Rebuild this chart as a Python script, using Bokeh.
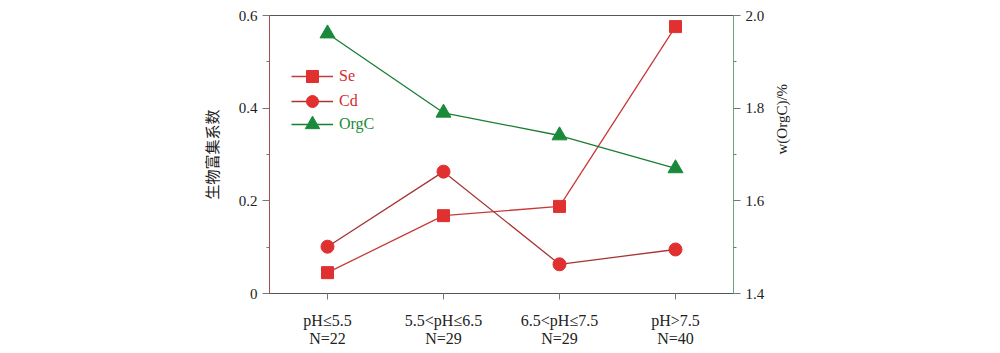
import math
from bokeh.plotting import figure
from bokeh.models import Range1d, LinearAxis, FixedTicker, Legend, LegendItem
from bokeh.embed import file_html
from bokeh.resources import INLINE

categories = ["pH≤5.5", "5.5<pH≤6.5", "6.5<pH≤7.5", "pH>7.5"]
counts = ["N=22", "N=29", "N=29", "N=40"]
se_values = [0.045, 0.168, 0.188, 0.576]
cd_values = [0.101, 0.263, 0.063, 0.095]
orgc_values = [1.961, 1.790, 1.741, 1.670]
left_ticks = [0, 0.2, 0.4, 0.6]
left_tick_labels = {0: "0", 0.2: "0.2", 0.4: "0.4", 0.6: "0.6"}
right_ticks = [1.4, 1.6, 1.8, 2.0]
right_tick_labels = {1.4: "1.4", 1.6: "1.6", 1.8: "1.8", 2.0: "2.0"}

SERIF = "Liberation Serif"
SE_LINE = "#c83a3a"
CD_LINE = "#a83434"
RED_FILL = "#e03030"
GREEN_LINE = "#1a7d34"
GREEN_FILL = "#1a8a3a"

xs = list(range(len(categories)))

p = figure(width=1000, height=353, output_backend="svg", toolbar_location=None,
           x_range=Range1d(-0.5, 3.5), y_range=Range1d(0, 0.6),
           min_border_left=269, min_border_right=267, min_border_top=15, min_border_bottom=60)
p.extra_y_ranges = {"orgc": Range1d(1.4, 2.0)}
p.grid.visible = False
p.outline_line_color = "#555555"
p.background_fill_color = "white"
p.border_fill_color = "white"

# bottom axis
xa = p.xaxis[0]
xa.ticker = FixedTicker(ticks=xs)
xa.major_label_overrides = {i: f"{c}\n{n}" for i, (c, n) in enumerate(zip(categories, counts))}
xa.major_label_text_font = SERIF
xa.major_label_text_font_size = "16px"
xa.major_label_text_color = "#222222"
xa.major_label_text_line_height = 1.1
xa.major_label_standoff = 12
xa.axis_line_color = "#555555"
xa.major_tick_line_color = "#777777"
xa.major_tick_out = 6
xa.major_tick_in = 0
xa.minor_tick_line_color = None

# left axis
ya = p.yaxis[0]
ya.ticker = FixedTicker(ticks=left_ticks, minor_ticks=[0.1, 0.3, 0.5])
ya.major_label_overrides = left_tick_labels
ya.axis_line_color = "#a0504a"
ya.major_tick_line_color = "#777777"
ya.minor_tick_line_color = "#777777"
ya.major_tick_out = 7
ya.major_tick_in = 0
ya.minor_tick_out = 3
ya.minor_tick_in = 0
ya.major_label_text_font = SERIF
ya.major_label_text_font_size = "15px"
ya.major_label_text_color = "#222222"
ya.axis_label = "生物富集系数"
ya.axis_label_text_font = "Noto Sans CJK SC"
ya.axis_label_text_font_style = "normal"
ya.axis_label_text_font_size = "15px"
ya.axis_label_text_color = "#222222"
ya.axis_label_standoff = 14

# right axis
ra = LinearAxis(y_range_name="orgc",
                ticker=FixedTicker(ticks=right_ticks, minor_ticks=[1.5, 1.7, 1.9]))
ra.major_label_overrides = right_tick_labels
ra.axis_line_color = "#6aa870"
ra.major_tick_line_color = "#777777"
ra.minor_tick_line_color = "#777777"
ra.major_tick_out = 7
ra.major_tick_in = 0
ra.minor_tick_out = 3
ra.minor_tick_in = 0
ra.major_label_text_font = SERIF
ra.major_label_text_font_size = "15px"
ra.major_label_text_color = "#222222"
ra.axis_label = "w(OrgC)/%"
ra.axis_label_text_font = SERIF
ra.axis_label_text_font_style = "normal"
ra.axis_label_text_font_size = "15px"
ra.axis_label_text_color = "#222222"
ra.axis_label_standoff = 15
try:
    ra.axis_label_orientation = math.pi / 2
except Exception:
    pass
p.add_layout(ra, "right")

# series
se_line = p.line(xs, se_values, line_color=SE_LINE, line_width=1.3)
se_mark = p.scatter(xs, se_values, marker="square", size=12, fill_color=RED_FILL, line_color=RED_FILL)
cd_line = p.line(xs, cd_values, line_color=CD_LINE, line_width=1.3)
cd_mark = p.scatter(xs, cd_values, marker="circle", size=13, fill_color=RED_FILL, line_color=RED_FILL)
og_line = p.line(xs, orgc_values, line_color=GREEN_LINE, line_width=1.3, y_range_name="orgc")
og_mark = p.scatter(xs, orgc_values, marker="triangle", size=15, fill_color=GREEN_FILL,
                    line_color=GREEN_FILL, y_range_name="orgc")

# legends (one per entry so each can have its own text colour)
entries = [("Se", [se_line, se_mark], "#d42a2a", 202, 30),
           ("Cd", [cd_line, cd_mark], "#d42a2a", 177, 30),
           ("OrgC", [og_line, og_mark], GREEN_FILL, 151, 36)]
for name, rends, col, ypos, gh in entries:
    lg = Legend(items=[LegendItem(label=name, renderers=rends)], location=(22, ypos),
                glyph_width=42, glyph_height=gh, label_standoff=6, padding=0, margin=0,
                spacing=0, background_fill_alpha=0, border_line_alpha=0,
                label_text_font=SERIF, label_text_font_size="16px", label_text_color=col,
                label_height=20)
    p.add_layout(lg, "center")

open("out.html", "w").write(file_html(p, INLINE))
